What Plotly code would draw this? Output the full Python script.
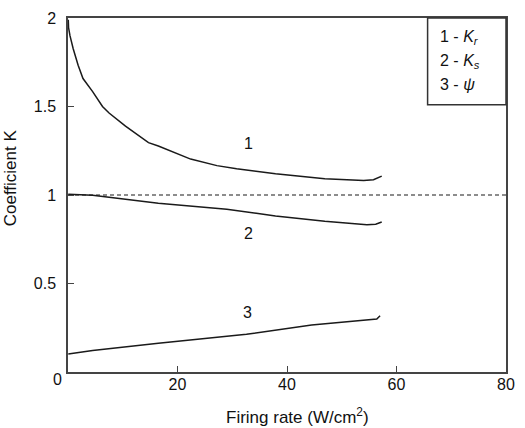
import plotly.graph_objects as go

# Curve 1 (K_r)
x1 = [0.05, 0.1, 0.36, 0.95, 1.85, 2.74, 4.5, 6.3, 7.5, 10.5, 14.7, 16.5, 22.4, 27.2, 30.8, 37.9, 46.9, 54.0, 55.8, 57.3]
y1 = [1.99, 1.946, 1.90, 1.826, 1.733, 1.658, 1.584, 1.50, 1.463, 1.389, 1.296, 1.277, 1.203, 1.166, 1.148, 1.120, 1.092, 1.082, 1.086, 1.107]
# Curve 2 (K_s)
x2 = [0.05, 4.5, 16.5, 29.0, 34.4, 37.9, 46.9, 54.6, 56.2, 57.3]
y2 = [1.004, 0.999, 0.953, 0.919, 0.897, 0.882, 0.851, 0.832, 0.835, 0.847]
# Curve 3 (psi)
x3 = [0.05, 4.5, 16.5, 32.6, 44.5, 56.4, 57.0]
y3 = [0.102, 0.121, 0.163, 0.213, 0.266, 0.299, 0.318]
# reference line
xref = [0, 80]
yref = [1, 1]

curve_labels = ["1", "2", "3"]
label_x = [32.9, 32.9, 32.7]
label_y = [1.29, 0.785, 0.335]

legend_lines = ["1 - <i>K</i><sub><i>r</i></sub>", "2 - <i>K</i><sub><i>s</i></sub>", "3 - <i>ψ</i>"]
legend_y = [0.945, 0.878, 0.812]

xticks = [20, 40, 60, 80]
yticks = [0.5, 1, 1.5, 2]

x_title = "Firing rate (W/cm<sup>2</sup>)"
y_title = "Coefficient K"

FONT = "Arial"
TXT = "#111"
line_col = "#1a1a1a"

fig = go.Figure()
fig.add_trace(go.Scatter(x=xref, y=yref, mode="lines",
                         line=dict(color=line_col, width=1.2, dash="4px,3px"), showlegend=False))
for xs, ys in [(x1, y1), (x2, y2), (x3, y3)]:
    fig.add_trace(go.Scatter(x=xs, y=ys, mode="lines", line=dict(color=line_col, width=1.5),
                             showlegend=False))

for t, lx, ly in zip(curve_labels, label_x, label_y):
    fig.add_annotation(x=lx, y=ly, text=t, showarrow=False, font=dict(family=FONT, size=16, color=TXT))

# x tick label "0" shifted left
fig.add_annotation(x=0, y=0, text="0", showarrow=False, xref="x", yref="paper",
                   yanchor="middle", yshift=-7, xshift=-11, font=dict(family=FONT, size=16, color=TXT))

# axis titles
fig.add_annotation(xref="paper", yref="paper", x=(302 - 68) / 447, y=0, yanchor="middle", yshift=-44,
                   text=x_title, showarrow=False, font=dict(family=FONT, size=17, color=TXT))
fig.add_annotation(xref="paper", yref="paper", x=0, y=(372 - 175) / 360, xanchor="center", xshift=-58,
                   text=y_title, textangle=-90, showarrow=False, font=dict(family=FONT, size=17, color=TXT))

# legend box
fig.add_shape(type="rect", xref="paper", yref="paper", x0=0.821, x1=1.0, y0=0.755, y1=1.0,
              line=dict(color="#333", width=1.5), fillcolor="white")
for t, ly in zip(legend_lines, legend_y):
    fig.add_annotation(xref="paper", yref="paper", x=0.845, y=ly, xanchor="left", yanchor="middle",
                       align="left", showarrow=False, text=t,
                       font=dict(family=FONT, size=16, color=TXT))

fig.update_layout(
    width=525, height=428,
    margin=dict(l=68, r=10, t=12, b=56),
    paper_bgcolor="white", plot_bgcolor="white",
    font=dict(family=FONT, size=16, color=TXT),
)
fig.update_xaxes(range=[0, 80], tickvals=xticks, ticks="inside", ticklen=6, tickcolor="#444",
                 showline=True, linecolor="#444", linewidth=1.5, mirror=True, showgrid=False,
                 zeroline=False, tickfont=dict(family=FONT, size=16, color=TXT), ticklabelstandoff=-3)
fig.update_yaxes(range=[0, 2], tickvals=yticks, ticks="inside", ticklen=6, tickcolor="#444",
                 showline=True, linecolor="#444", linewidth=1.5, mirror=True, showgrid=False,
                 zeroline=False, tickfont=dict(family=FONT, size=16, color=TXT), ticklabelstandoff=7)

fig.write_html("out.html")
